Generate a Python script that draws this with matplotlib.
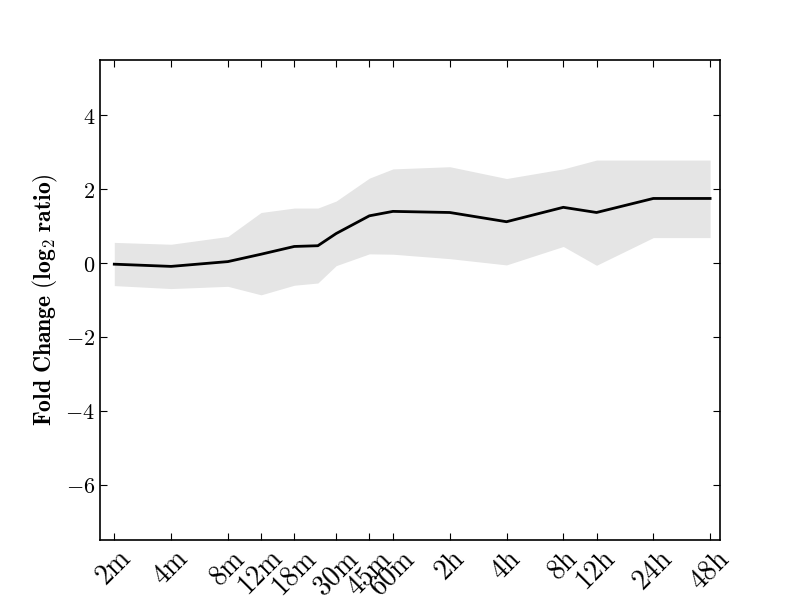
import matplotlib
matplotlib.use("Agg")
import matplotlib.pyplot as plt
from matplotlib.ticker import FuncFormatter, NullLocator

plt.rcParams["mathtext.fontset"] = "cm"
plt.rcParams["font.family"] = "serif"

# time points in minutes
time_minutes = [2, 4, 8, 12, 18, 24, 30, 45, 60, 120, 240, 480, 720, 1440, 2880]
mean_fc = [-0.03, -0.09, 0.04, 0.24, 0.45, 0.47, 0.80, 1.28, 1.40, 1.37, 1.12, 1.51, 1.37, 1.75, 1.75]
upper_fc = [0.56, 0.51, 0.72, 1.37, 1.49, 1.49, 1.68, 2.30, 2.55, 2.61, 2.29, 2.55, 2.79, 2.79, 2.79]
lower_fc = [-0.61, -0.69, -0.63, -0.86, -0.60, -0.54, -0.07, 0.25, 0.24, 0.12, -0.05, 0.45, -0.06, 0.69, 0.69]

tick_minutes = [2, 4, 8, 12, 18, 30, 45, 60, 120, 240, 480, 720, 1440, 2880]
tick_labels = ["2m", "4m", "8m", "12m", "18m", "30m", "45m", "60m",
               "2h", "4h", "8h", "12h", "24h", "48h"]

fig, ax = plt.subplots(figsize=(8, 6), dpi=100)
fig.subplots_adjust(left=0.125, right=0.9, bottom=0.1, top=0.9)

ax.fill_between(time_minutes, lower_fc, upper_fc, color="#e5e5e5", linewidth=0)
ax.plot(time_minutes, mean_fc, color="black", linewidth=2)

ax.set_xscale("log")
ax.set_xlim(1.68, 3250)
ax.set_ylim(-7.5, 5.5)
ax.set_xticks(tick_minutes)
ax.xaxis.set_minor_locator(NullLocator())
ax.set_xticklabels([r"$\mathrm{%s}$" % t for t in tick_labels], rotation=45, fontsize=20)
ax.set_yticks([-6, -4, -2, 0, 2, 4])
ax.yaxis.set_major_formatter(FuncFormatter(lambda v, p: r"$%d$" % v))
ax.tick_params(axis="y", labelsize=16)
ax.tick_params(direction="in", top=True, right=True, length=5, width=0.8)

ax.set_ylabel(r"$\mathbf{Fold\ Change\ (log_2\ ratio)}$", fontsize=17)

for spine in ax.spines.values():
    spine.set_linewidth(1.2)

plt.savefig("out.png", dpi=100)
